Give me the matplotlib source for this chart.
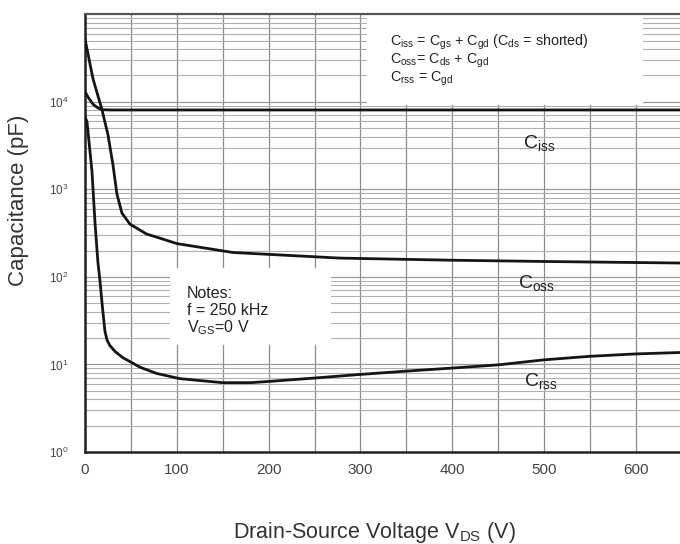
import matplotlib
matplotlib.use("Agg")
import matplotlib.pyplot as plt
from matplotlib.patches import Rectangle
from matplotlib.ticker import LogLocator, NullFormatter, FixedLocator

plt.rcParams['font.family'] = ['Liberation Sans', 'DejaVu Sans']
plt.rcParams['mathtext.fontset'] = 'custom'
plt.rcParams['mathtext.rm'] = 'Liberation Sans'
plt.rcParams['mathtext.it'] = 'Liberation Sans:italic'
plt.rcParams['mathtext.bf'] = 'Liberation Sans:bold'

# ---- data ----
v_ciss = [0, 4, 9, 14, 18.5, 30, 100, 200, 300, 400, 500, 600, 648]
c_ciss = [13000, 11000, 9300, 8500, 8100, 8050, 8050, 8050, 8050, 8050, 8050, 8050, 8050]

v_coss = [0, 8.7, 18.5, 25, 30.4, 34.8, 40.2, 49, 67, 81.5, 100, 161, 277, 400, 500, 648]
c_coss = [52000, 18300, 8100, 4200, 1920, 880, 535, 400, 309, 277, 240, 190, 164, 155, 150, 144]

v_crss = [0, 2.2, 7.6, 11, 14, 16.3, 19, 21.7, 24, 27, 33, 41, 60, 78, 103, 122, 150,
          180, 200, 250, 300, 350, 400, 450, 500, 550, 600, 648]
c_crss = [6700, 5900, 1600, 400, 150, 90, 45, 24, 19, 16.5, 14, 12, 9.3, 7.9, 6.9, 6.6, 6.2,
          6.2, 6.4, 7.0, 7.7, 8.4, 9.1, 9.9, 11.3, 12.4, 13.2, 13.7]

x_ticks = [0, 100, 200, 300, 400, 500, 600]
y_ticks = [1, 10, 100, 1000, 10000]
y_tick_labels = [r'$\mathrm{10^{0}}$', r'$\mathrm{10^{1}}$', r'$\mathrm{10^{2}}$',
                 r'$\mathrm{10^{3}}$', r'$\mathrm{10^{4}}$']

fig = plt.figure(figsize=(6.8, 5.44), dpi=100)
ax = fig.add_axes([0.125, 0.169, 0.875, 0.805])

ax.set_yscale('log')
ax.set_xlim(0, 648)
ax.set_ylim(1, 1e5)

# grid
ax.set_xticks(x_ticks)
ax.xaxis.set_minor_locator(FixedLocator([50, 150, 250, 350, 450, 550, 650]))
ax.set_yticks(y_ticks)
ax.set_yticklabels(y_tick_labels)
ax.yaxis.set_minor_locator(LogLocator(base=10, subs=range(2, 10)))
ax.yaxis.set_minor_formatter(NullFormatter())
ax.xaxis.grid(True, which='both', color='#8c8c8c', linewidth=0.9, zorder=0)
ax.yaxis.grid(True, which='major', color='#9a9a9a', linewidth=0.9, zorder=0)
ax.yaxis.grid(True, which='minor', color='#b0b0b0', linewidth=0.8, zorder=0)
ax.set_axisbelow(True)
ax.tick_params(which='both', length=0)
ax.tick_params(axis='x', labelsize=11, labelcolor='#444444', pad=8)
ax.tick_params(axis='y', labelsize=8.5, labelcolor='#444444', pad=12)

for s in ['left', 'bottom']:
    ax.spines[s].set_linewidth(1.8)
    ax.spines[s].set_color('#222222')
ax.spines['top'].set_linewidth(1.6)
ax.spines['top'].set_color('#555555')
ax.spines['right'].set_visible(False)

# white boxes over grid
ax.add_patch(Rectangle((0.474, 0.792), 0.464, 0.208, transform=ax.transAxes,
                       facecolor='white', edgecolor='none', zorder=1))
ax.add_patch(Rectangle((0.143, 0.244), 0.27, 0.176, transform=ax.transAxes,
                       facecolor='white', edgecolor='none', zorder=1))

# curves
for v, c in [(v_ciss, c_ciss), (v_coss, c_coss), (v_crss, c_crss)]:
    ax.plot(v, c, color='#151515', linewidth=2.0, zorder=3, solid_joinstyle='round')

# annotations
tc = '#222222'
ax.text(0.513, 0.935,
        r'C$_{\mathrm{iss}}$ = C$_{\mathrm{gs}}$ + C$_{\mathrm{gd}}$ (C$_{\mathrm{ds}}$ = shorted)',
        transform=ax.transAxes, fontsize=10.3, color=tc, va='center', zorder=4)
ax.text(0.513, 0.893, r'C$_{\mathrm{oss}}$= C$_{\mathrm{ds}}$ + C$_{\mathrm{gd}}$',
        transform=ax.transAxes, fontsize=10.3, color=tc, va='center', zorder=4)
ax.text(0.513, 0.853, r'C$_{\mathrm{rss}}$ = C$_{\mathrm{gd}}$',
        transform=ax.transAxes, fontsize=10.3, color=tc, va='center', zorder=4)

ax.text(0.171, 0.362, 'Notes:', transform=ax.transAxes, fontsize=11.5, color=tc,
        va='center', zorder=4)
ax.text(0.171, 0.323, 'f = 250 kHz', transform=ax.transAxes, fontsize=11.5, color=tc,
        va='center', zorder=4)
ax.text(0.171, 0.285, r'V$_{\mathrm{GS}}$=0 V', transform=ax.transAxes, fontsize=11.5, color=tc,
        va='center', zorder=4)

ax.text(0.736, 0.705, r'C$_{\mathrm{iss}}$', transform=ax.transAxes, fontsize=14, color=tc,
        va='center', zorder=4)
ax.text(0.728, 0.386, r'C$_{\mathrm{oss}}$', transform=ax.transAxes, fontsize=14, color=tc,
        va='center', zorder=4)
ax.text(0.738, 0.162, r'C$_{\mathrm{rss}}$', transform=ax.transAxes, fontsize=14, color=tc,
        va='center', zorder=4)

fig.text(0.55, 0.022, r'Drain-Source Voltage V$_{\mathrm{DS}}$ (V)', fontsize=15.5,
         color='#333333', ha='center', va='center')
fig.text(0.027, 0.632, 'Capacitance (pF)', fontsize=16, color='#333333',
         ha='center', va='center', rotation=90)

fig.savefig('out.png', dpi=100)
